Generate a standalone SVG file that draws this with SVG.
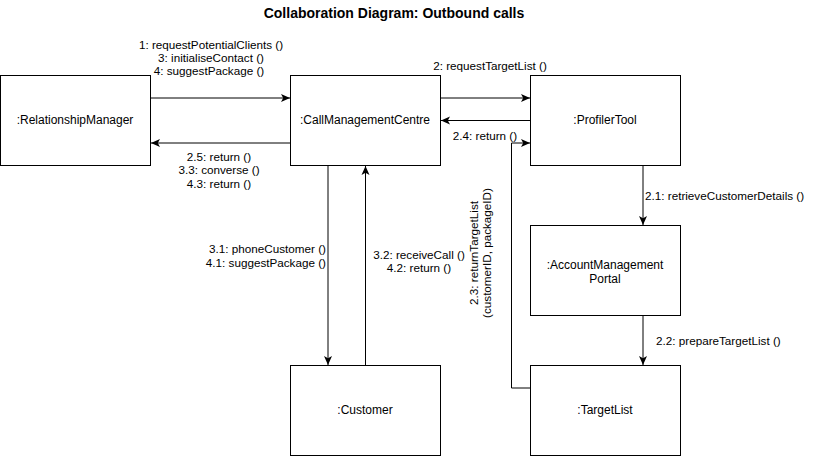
<svg xmlns="http://www.w3.org/2000/svg" width="820" height="456" viewBox="0 0 820 456">
<style>
text{font-family:"Liberation Sans",Arial,sans-serif;fill:#000}
.node{fill:#fff;stroke:#000;stroke-width:1}
.lbl{font-size:12px;text-anchor:middle}
.msg{font-size:11.7px}
.c{text-anchor:middle}
.e{text-anchor:end}
.conn{fill:none;stroke:#000;stroke-width:1}
.title{font-size:14px;font-weight:bold;text-anchor:middle}
</style>
<defs>
<marker id="arr" viewBox="0 0 10 10" refX="9" refY="5" markerWidth="10" markerHeight="10" markerUnits="userSpaceOnUse" orient="auto">
<path d="M0,1 L9,5 L0,9 L2.2,5 z" fill="#000"/>
</marker>
</defs>
<rect width="820" height="456" fill="#fff"/>
<text class="title" x="394" y="18">Collaboration Diagram: Outbound calls</text>
<g id="RelationshipManager"><rect class="node" x="0.5" y="75.5" width="150" height="90"/><text class="lbl" x="75" y="124">:RelationshipManager</text></g>
<g id="CallManagementCentre"><rect class="node" x="290.5" y="75.5" width="150" height="90"/><text class="lbl" x="365" y="124">:CallManagementCentre</text></g>
<g id="ProfilerTool"><rect class="node" x="530.5" y="75.5" width="150" height="90"/><text class="lbl" x="605" y="124">:ProfilerTool</text></g>
<g id="AccountManagementPortal"><rect class="node" x="530.5" y="225.5" width="150" height="90"/><text class="lbl" x="605" y="269">:AccountManagement</text><text class="lbl" x="605" y="283">Portal</text></g>
<g id="TargetList"><rect class="node" x="530.5" y="365.5" width="150" height="90"/><text class="lbl" x="605" y="414">:TargetList</text></g>
<g id="Customer"><rect class="node" x="290.5" y="365.5" width="150" height="90"/><text class="lbl" x="365" y="414">:Customer</text></g>
<g id="connectors">
<path class="conn" d="M151,98 L290,98" marker-end="url(#arr)"/>
<path class="conn" d="M290,143 L151,143" marker-end="url(#arr)"/>
<path class="conn" d="M441,98 L530,98" marker-end="url(#arr)"/>
<path class="conn" d="M530,120.5 L441,120.5" marker-end="url(#arr)"/>
<path class="conn" d="M530,388 L511.5,388 L511.5,143 L530,143" marker-end="url(#arr)"/>
<path class="conn" d="M328,166 L328,365" marker-end="url(#arr)"/>
<path class="conn" d="M365.5,365 L365.5,166" marker-end="url(#arr)"/>
<path class="conn" d="M643,166 L643,225" marker-end="url(#arr)"/>
<path class="conn" d="M643,316 L643,365" marker-end="url(#arr)"/>
</g>
<g id="labels">
<text class="msg c" x="211" y="49">1: requestPotentialClients ()</text>
<text class="msg c" x="211" y="62">3: initialiseContact ()</text>
<text class="msg c" x="209" y="75">4: suggestPackage ()</text>
<text class="msg c" x="219" y="161">2.5: return ()</text>
<text class="msg c" x="219" y="174">3.3: converse ()</text>
<text class="msg c" x="219" y="188">4.3: return ()</text>
<text class="msg c" x="490" y="70">2: requestTargetList ()</text>
<text class="msg c" x="485" y="140">2.4: return ()</text>
<text class="msg" x="645" y="200">2.1: retrieveCustomerDetails ()</text>
<text class="msg" x="656" y="345">2.2: prepareTargetList ()</text>
<text class="msg e" x="326" y="253">3.1: phoneCustomer ()</text>
<text class="msg e" x="326" y="267">4.1: suggestPackage ()</text>
<text class="msg c" x="419" y="259">3.2: receiveCall ()</text>
<text class="msg c" x="419" y="272">4.2: return ()</text>
<g transform="translate(478,253) rotate(-90)">
<text class="msg c" x="0" y="0">2.3: returnTargetList</text>
<text class="msg c" x="0" y="13">(customerID, packageID)</text>
</g>
</g>
</svg>
